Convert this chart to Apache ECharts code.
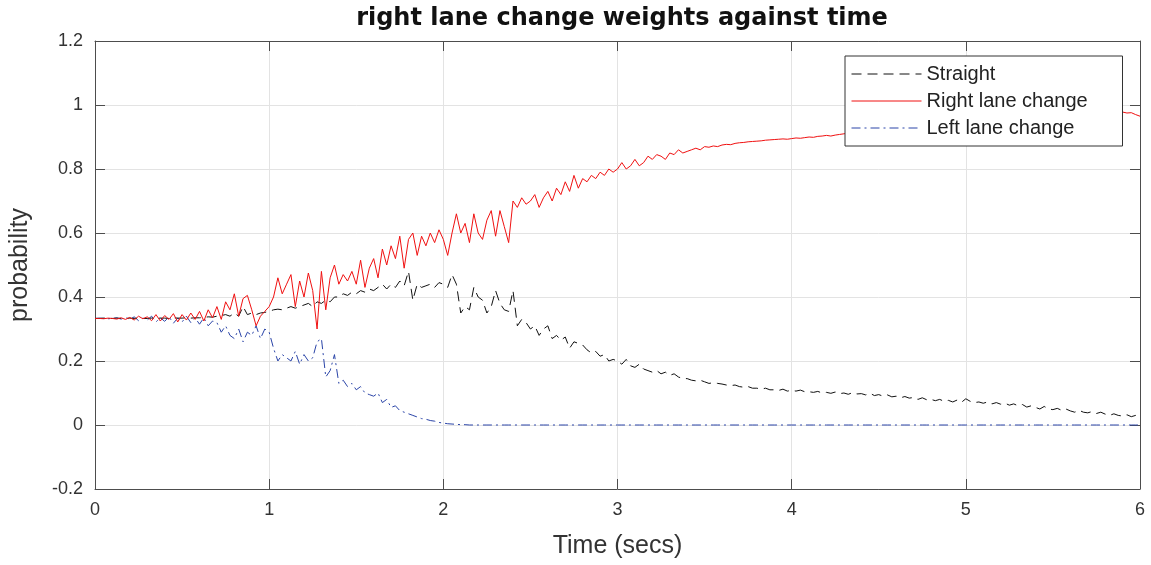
<!DOCTYPE html>
<html>
<head>
<meta charset="utf-8">
<script src="https://cdn.jsdelivr.net/npm/echarts@6/dist/echarts.min.js"></script>
<style>html,body{margin:0;padding:0;background:#fff}#c{width:1151px;height:565px}</style>
</head>
<body>
<div id="c"></div>
<script>
// sampling grid (seconds)
const tStart = 0, tStep = 0.025, tCount = 241;
const xTicks = [0, 1, 2, 3, 4, 5, 6];
const yTicks = [-0.2, 0, 0.2, 0.4, 0.6, 0.8, 1, 1.2];
const seriesNames = ['Straight', 'Right lane change', 'Left lane change'];

const straight = [
0.333,0.333,0.334,0.333, 0.333,0.334,0.333,0.333, 0.334,0.333,0.334,0.333, 0.333,0.334,0.333,0.334,
0.334,0.333,0.335,0.334, 0.334,0.335,0.334,0.335, 0.335,0.336,0.338,0.337, 0.340,0.342,0.345,0.340,
0.350,0.340,0.370,0.345, 0.350,0.345,0.350,0.352, 0.355,0.360,0.362,0.360, 0.365,0.370,0.365,0.370,
0.375,0.380,0.370,0.385, 0.380,0.390,0.385,0.400, 0.400,0.410,0.405,0.415, 0.410,0.420,0.415,0.425,
0.420,0.430,0.440,0.425, 0.440,0.430,0.450,0.435, 0.480,0.390,0.440,0.430, 0.435,0.440,0.430,0.445,
0.440,0.430,0.470,0.440, 0.350,0.370,0.360,0.430, 0.400,0.390,0.350,0.370, 0.420,0.380,0.360,0.355,
0.420,0.310,0.330,0.320, 0.300,0.310,0.280,0.300, 0.310,0.270,0.280,0.265, 0.275,0.240,0.260,0.255,
0.250,0.235,0.225,0.230, 0.215,0.220,0.200,0.205, 0.200,0.190,0.205,0.185, 0.180,0.190,0.175,0.170,
0.165,0.170,0.160,0.165, 0.155,0.160,0.150,0.145, 0.145,0.140,0.138,0.140, 0.135,0.130,0.132,0.130,
0.128,0.125,0.123,0.125, 0.120,0.118,0.120,0.115, 0.115,0.112,0.115,0.110, 0.110,0.108,0.112,0.106,
0.108,0.106,0.109,0.104, 0.104,0.102,0.105,0.100, 0.102,0.099,0.103,0.098, 0.100,0.096,0.101,0.097,
0.098,0.094,0.099,0.092, 0.095,0.090,0.094,0.088, 0.090,0.085,0.089,0.084, 0.086,0.080,0.085,0.079,
0.080,0.076,0.080,0.074, 0.077,0.072,0.078,0.071, 0.082,0.074,0.070,0.072, 0.068,0.072,0.066,0.070,
0.065,0.068,0.062,0.066, 0.060,0.064,0.056,0.060, 0.055,0.050,0.058,0.050, 0.048,0.052,0.046,0.050,
0.044,0.040,0.046,0.040, 0.038,0.042,0.036,0.040, 0.034,0.030,0.035,0.030, 0.028,0.032,0.026,0.030,
0.035
];

const rightLane = [
0.333,0.333,0.332,0.334, 0.333,0.331,0.335,0.330, 0.336,0.328,0.340,0.332, 0.338,0.326,0.345,0.325,
0.342,0.330,0.348,0.322, 0.345,0.328,0.350,0.330, 0.355,0.325,0.360,0.335, 0.370,0.330,0.385,0.360,
0.410,0.340,0.395,0.405, 0.360,0.310,0.340,0.355, 0.370,0.400,0.460,0.410, 0.440,0.470,0.370,0.450,
0.400,0.475,0.420,0.300, 0.480,0.360,0.460,0.500, 0.440,0.470,0.450,0.480, 0.440,0.515,0.430,0.490,
0.520,0.460,0.550,0.500, 0.560,0.520,0.590,0.490, 0.580,0.600,0.530,0.590, 0.560,0.600,0.570,0.610,
0.580,0.530,0.600,0.660, 0.600,0.630,0.570,0.660, 0.600,0.580,0.640,0.670, 0.590,0.670,0.620,0.570,
0.700,0.680,0.710,0.690, 0.700,0.720,0.680,0.710, 0.730,0.700,0.740,0.720, 0.760,0.730,0.780,0.740,
0.770,0.760,0.780,0.770, 0.790,0.780,0.800,0.790, 0.800,0.820,0.800,0.810, 0.830,0.810,0.820,0.840,
0.830,0.845,0.840,0.830, 0.850,0.845,0.860,0.850, 0.855,0.860,0.865,0.860, 0.870,0.868,0.872,0.870,
0.875,0.877,0.876,0.880, 0.882,0.883,0.885,0.886, 0.887,0.888,0.890,0.891, 0.892,0.893,0.894,0.893,
0.895,0.897,0.896,0.898, 0.900,0.899,0.902,0.903, 0.905,0.903,0.906,0.908, 0.910,0.912,0.911,0.914,
0.916,0.918,0.920,0.921, 0.923,0.925,0.928,0.930, 0.932,0.934,0.936,0.938, 0.940,0.942,0.943,0.945,
0.946,0.948,0.950,0.951, 0.952,0.954,0.955,0.956, 0.957,0.958,0.960,0.961, 0.962,0.963,0.964,0.965,
0.966,0.967,0.968,0.968, 0.969,0.970,0.970,0.971, 0.972,0.972,0.973,0.973, 0.974,0.974,0.975,0.975,
0.976,0.976,0.976,0.977, 0.977,0.978,0.977,0.978, 0.978,0.977,0.979,0.978, 0.978,0.975,0.976,0.970,
0.965
];

const leftLane = [
0.333,0.334,0.333,0.332, 0.333,0.335,0.331,0.336, 0.330,0.338,0.326,0.334, 0.328,0.340,0.322,0.335,
0.324,0.338,0.318,0.334, 0.322,0.340,0.320,0.335, 0.315,0.335,0.310,0.325, 0.320,0.290,0.310,0.280,
0.270,0.300,0.260,0.290, 0.280,0.310,0.270,0.300, 0.290,0.240,0.200,0.220, 0.210,0.200,0.230,0.190,
0.220,0.200,0.210,0.260, 0.270,0.150,0.170,0.220, 0.130,0.140,0.120,0.130, 0.110,0.120,0.100,0.095,
0.090,0.100,0.070,0.080, 0.055,0.060,0.045,0.040, 0.035,0.030,0.025,0.020, 0.018,0.014,0.012,0.008,
0.006,0.004,0.003,0.002, 0.001,0.001,0,0, 0,0,0,0, 0,0,0,0,
0,0,0,0, 0,0,0,0, 0,0,0,0, 0,0,0,0,
0,0,0,0, 0,0,0,0, 0,0,0,0, 0,0,0,0,
0,0,0,0, 0,0,0,0, 0,0,0,0, 0,0,0,0,
0,0,0,0, 0,0,0,0, 0,0,0,0, 0,0,0,0,
0,0,0,0, 0,0,0,0, 0,0,0,0, 0,0,0,0,
0,0,0,0, 0,0,0,0, 0,0,0,0, 0,0,0,0,
0,0,0,0, 0,0,0,0, 0,0,0,0, 0,0,0,0,
0,0,0,0, 0,0,0,0, 0,0,0,0, 0,0,0,0,
0,0,0,0, 0,0,0,0, 0,0,0,0, 0,0,0,0,
0
];

const times = [];
for (let i = 0; i < tCount; i++) times.push(+(tStart + i * tStep).toFixed(3));
const pairs = arr => times.map((t, i) => [t, arr[i]]);

const FONT = '"Liberation Sans", Arial, Helvetica, sans-serif';
const TFONT = '"DejaVu Sans", "Liberation Sans", sans-serif';
const AXC = '#4d4d4d';
const chart = echarts.init(document.getElementById('c'), null, {renderer: 'canvas'});
const yLabel = v => {
  const r = Math.round(v * 10) / 10;
  return yTicks.some(t => Math.abs(t - r) < 1e-9) ? String(r) : '';
};

chart.setOption({
  animation: false,
  backgroundColor: '#fff',
  title: {
    text: 'right lane change weights against time',
    left: 617, textAlign: 'center', top: 2,
    textStyle: {fontFamily: TFONT, fontSize: 24, fontWeight: 'bold', color: '#111'}
  },
  grid: {left: 94, right: 11, top: 41, bottom: 76, containLabel: false},
  legend: {
    data: seriesNames,
    orient: 'vertical',
    left: 845, top: 56, zlevel: 1, z: 10,
    padding: [8, 6, 8, 6],
    itemWidth: 70, itemHeight: 14, itemGap: 7,
    backgroundColor: '#fff',
    borderColor: '#333', borderWidth: 1, borderRadius: 0,
    itemStyle: {opacity: 0},
    lineStyle: {width: 1},
    textStyle: {fontFamily: FONT, fontSize: 20, color: '#222', width: 190, lineHeight: 20}
  },
  xAxis: [{
    type: 'value', min: xTicks[0], max: xTicks[xTicks.length - 1], interval: 1,
    name: 'Time (secs)', nameLocation: 'middle', nameGap: 45,
    nameTextStyle: {fontFamily: FONT, fontSize: 25, color: '#333'},
    axisLine: {show: true, onZero: false, lineStyle: {color: AXC, width: 1}},
    axisTick: {show: true, inside: true, length: 10, lineStyle: {color: AXC}},
    axisLabel: {fontFamily: FONT, fontSize: 18, color: '#333', margin: 12},
    splitLine: {show: true, lineStyle: {color: '#e3e3e3', width: 1}}
  }, {
    type: 'value', position: 'top', min: xTicks[0], max: xTicks[xTicks.length - 1], interval: 1,
    axisLine: {show: true, onZero: false, lineStyle: {color: AXC, width: 1}},
    axisTick: {show: true, inside: true, length: 10, lineStyle: {color: AXC}},
    axisLabel: {show: false}, splitLine: {show: false}
  }],
  yAxis: [{
    type: 'value', min: yTicks[0], max: yTicks[yTicks.length - 1], interval: 0.2,
    name: 'probability', nameLocation: 'middle', nameGap: 62,
    nameTextStyle: {fontFamily: FONT, fontSize: 25, color: '#333'},
    axisLine: {show: true, onZero: false, lineStyle: {color: AXC, width: 1}},
    axisTick: {show: true, inside: true, length: 10, lineStyle: {color: AXC}},
    axisLabel: {fontFamily: FONT, fontSize: 18, color: '#333', margin: 12, formatter: yLabel},
    splitLine: {show: true, lineStyle: {color: '#e3e3e3', width: 1}}
  }, {
    type: 'value', position: 'right', min: yTicks[0], max: yTicks[yTicks.length - 1], interval: 0.2,
    axisLine: {show: true, onZero: false, lineStyle: {color: AXC, width: 1}},
    axisTick: {show: true, inside: true, length: 10, lineStyle: {color: AXC}},
    axisLabel: {show: false}, splitLine: {show: false}
  }],
  series: [
    {name: seriesNames[2], type: 'line', data: pairs(leftLane), symbol: 'none', z: 2,
     lineStyle: {color: '#2a44a8', width: 1, type: [9, 4, 2, 4]}, itemStyle: {color: '#2a44a8'}},
    {name: seriesNames[0], type: 'line', data: pairs(straight), symbol: 'none', z: 2,
     lineStyle: {color: '#111', width: 1, type: [10, 6]}, itemStyle: {color: '#111'}},
    {name: seriesNames[1], type: 'line', data: pairs(rightLane), symbol: 'none', z: 2,
     lineStyle: {color: '#f01010', width: 1, type: 'solid'}, itemStyle: {color: '#f01010'}}
  ]
});
</script>
</body>
</html>
